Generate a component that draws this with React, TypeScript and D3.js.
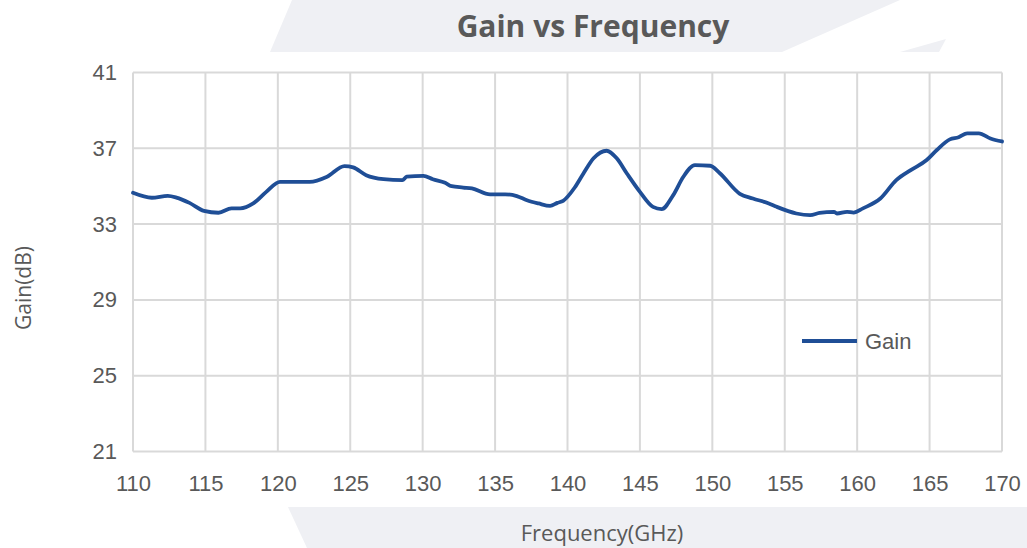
import { useEffect, useRef } from 'react';
import * as d3 from 'd3';

const FREQ_GHZ = [
  110.0, 111.3, 112.4, 113.0, 113.9, 114.9, 115.9, 116.8, 117.4, 118.3, 119.2, 120.15,
  122.2, 123.4, 124.6, 125.2, 126.1, 127.3, 128.6, 128.9, 130.05, 130.7, 131.55, 132.0,
  132.8, 133.4, 134.65, 135.7, 136.5, 137.2, 138.0, 138.8, 139.3, 139.7, 140.5, 141.1,
  141.8, 142.7, 143.4, 144.1, 145.0, 145.9, 146.5, 147.3, 148.0, 148.8, 149.85, 150.5,
  151.9, 152.8, 153.9, 154.45, 155.8, 156.75, 157.4, 158.4, 158.6, 159.3, 159.75, 160.4,
  161.6, 162.7, 163.7, 164.8, 165.5, 166.4, 167.0, 167.6, 168.4, 169.2, 170.0,
];

const GAIN_DB = [
  34.65, 34.39, 34.49, 34.4, 34.12, 33.7, 33.6, 33.83, 33.83, 34.09, 34.7, 35.23,
  35.23, 35.5, 36.06, 35.99, 35.58, 35.37, 35.32, 35.5, 35.55, 35.37, 35.18, 35.0,
  34.93, 34.88, 34.57, 34.57, 34.48, 34.26, 34.09, 33.96, 34.12, 34.23, 34.93, 35.67,
  36.47, 36.87, 36.47, 35.67, 34.7, 33.91, 33.79, 34.53, 35.5, 36.11, 36.08, 35.7,
  34.6, 34.35, 34.09, 33.91, 33.56, 33.47, 33.59, 33.65, 33.56, 33.65, 33.61, 33.83,
  34.35, 35.32, 35.85, 36.38, 36.91, 37.47, 37.58, 37.79, 37.79, 37.52, 37.36,
];

const X_TICKS = [110, 115, 120, 125, 130, 135, 140, 145, 150, 155, 160, 165, 170];
const Y_TICKS = [21, 25, 29, 33, 37, 41];

const TITLE = 'Gain vs Frequency';
const X_LABEL = 'Frequency(GHz)';
const Y_LABEL = 'Gain(dB)';
const SERIES_NAME = 'Gain';

export default function App() {
  const svgRef = useRef<SVGSVGElement>(null);

  useEffect(() => {
    if (!svgRef.current) return;

    const width = 1027;
    const height = 548;
    const lineColor = '#1F4E96';
    const gridColor = '#D9D9D9';
    const textColor = '#595959';
    const tickFont = '"Liberation Sans", Arial, sans-serif';
    const titleFont = '"Open Sans", sans-serif';

    const svg = d3.select(svgRef.current);
    svg.selectAll('*').remove();
    svg.attr('width', width).attr('height', height);

    // background slab shapes
    svg.append('rect').attr('width', width).attr('height', height).attr('fill', '#ffffff');
    svg.append('polygon')
      .attr('points', '292,0 900,0 782,52 270,52')
      .attr('fill', '#EFF0F4');
    svg.append('polygon')
      .attr('points', '900,52 946,39 939,52')
      .attr('fill', '#EFF0F4');
    svg.append('polygon')
      .attr('points', `288,507 ${width},507 ${width},${height} 307,${height}`)
      .attr('fill', '#EFF0F4');

    const x = d3.scaleLinear().domain([110, 170]).range([133, 1002]);
    const y = d3.scaleLinear().domain([21, 41]).range([451.5, 72.5]);

    // grid
    const grid = svg.append('g');
    X_TICKS.forEach((t) => {
      grid.append('line')
        .attr('x1', x(t)).attr('x2', x(t))
        .attr('y1', y(41)).attr('y2', y(21))
        .attr('stroke', gridColor)
        .attr('stroke-width', 2);
    });
    Y_TICKS.forEach((t) => {
      grid.append('line')
        .attr('x1', x(110)).attr('x2', x(170))
        .attr('y1', y(t)).attr('y2', y(t))
        .attr('stroke', gridColor)
        .attr('stroke-width', 2);
    });

    // axes (labels only)
    const xAxis = svg.append('g')
      .attr('transform', `translate(0, ${y(21)})`)
      .call(d3.axisBottom(x).tickValues(X_TICKS).tickSize(0).tickPadding(24).tickFormat(d3.format('d')));
    const yAxis = svg.append('g')
      .attr('transform', `translate(${x(110)}, 0)`)
      .call(d3.axisLeft(y).tickValues(Y_TICKS).tickSize(0).tickPadding(16).tickFormat(d3.format('d')));
    [xAxis, yAxis].forEach((a) => {
      a.select('.domain').remove();
      a.selectAll('text')
        .attr('font-family', tickFont)
        .attr('font-size', 22)
        .attr('fill', textColor);
    });

    // series
    const points = FREQ_GHZ.map((f, i) => [f, GAIN_DB[i]] as [number, number]);
    const line = d3.line<[number, number]>()
      .x((d) => x(d[0]))
      .y((d) => y(d[1]))
      .curve(d3.curveMonotoneX);
    svg.append('path')
      .datum(points)
      .attr('d', line)
      .attr('fill', 'none')
      .attr('stroke', lineColor)
      .attr('stroke-width', 3.8)
      .attr('stroke-linejoin', 'round')
      .attr('stroke-linecap', 'round');

    // legend
    svg.append('line')
      .attr('x1', 802).attr('x2', 857)
      .attr('y1', 341).attr('y2', 341)
      .attr('stroke', lineColor)
      .attr('stroke-width', 3.8);
    svg.append('text')
      .attr('x', 865).attr('y', 349)
      .attr('font-family', tickFont)
      .attr('font-size', 22)
      .attr('fill', textColor)
      .text(SERIES_NAME);

    // title + axis titles
    svg.append('text')
      .attr('x', 593).attr('y', 37)
      .attr('text-anchor', 'middle')
      .attr('font-family', titleFont)
      .attr('font-weight', 700)
      .attr('font-size', 30)
      .attr('fill', textColor)
      .text(TITLE);

    svg.append('text')
      .attr('x', 602).attr('y', 541)
      .attr('text-anchor', 'middle')
      .attr('font-family', titleFont)
      .attr('font-size', 22)
      .attr('fill', textColor)
      .text(X_LABEL);

    svg.append('text')
      .attr('transform', 'translate(31, 288) rotate(-90)')
      .attr('text-anchor', 'middle')
      .attr('font-family', titleFont)
      .attr('font-size', 21)
      .attr('fill', textColor)
      .text(Y_LABEL);
  }, []);

  return (
    <div style={{ position: 'fixed', left: 0, top: 0 }}>
      <svg ref={svgRef} style={{ display: 'block' }} />
    </div>
  );
}
